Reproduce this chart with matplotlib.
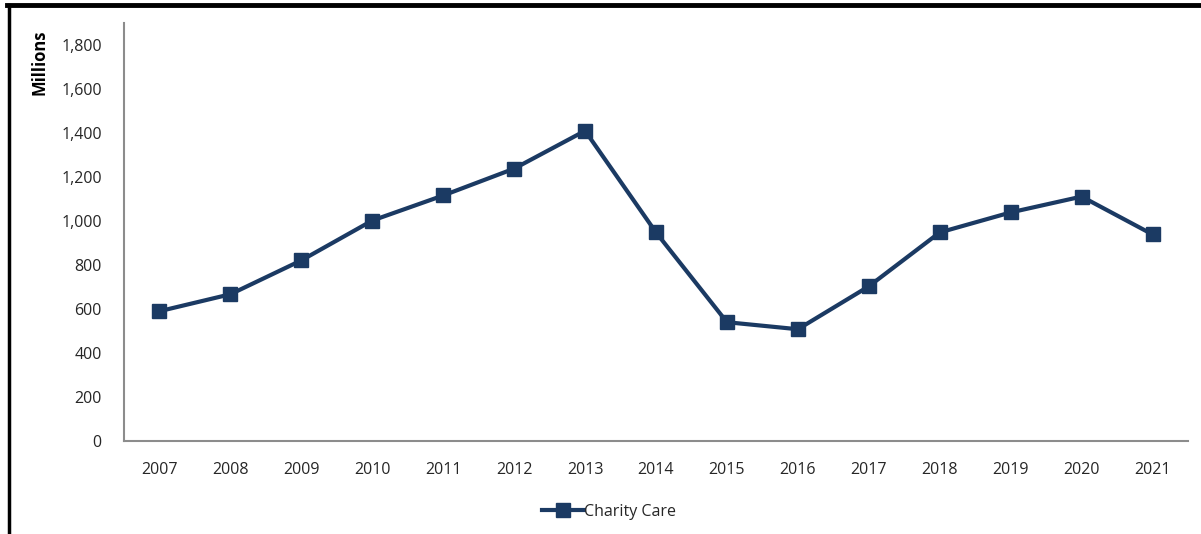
import matplotlib.pyplot as plt
from matplotlib.lines import Line2D

years = ['2007', '2008', '2009', '2010', '2011', '2012', '2013', '2014',
         '2015', '2016', '2017', '2018', '2019', '2020', '2021']
charity_care = [590, 667, 821, 1002, 1116, 1238, 1410, 948,
                540, 508, 703, 948, 1039, 1111, 939]
yticks = [0, 200, 400, 600, 800, 1000, 1200, 1400, 1600, 1800]

navy = '#1b3a63'
grey = '#8c8c8c'
txt = '#262626'

plt.rcParams['font.family'] = ['Open Sans', 'DejaVu Sans']

fig = plt.figure(figsize=(12.01, 5.34), dpi=100)
W, H = 1201, 534
ax = fig.add_axes([124 / W, 1 - 441 / H, (1188 - 124) / W, (441 - 23) / H])

x = list(range(len(years)))
ax.plot(x, charity_care, color=navy, lw=3, marker='s', ms=10,
        label='Charity Care', solid_joinstyle='round')

ax.set_xlim(-0.5, len(years) - 0.5)
ax.set_ylim(0, 1900)
ax.set_xticks(x)
ax.set_xticklabels(years)
ax.set_yticks(yticks)
ax.set_yticklabels([f'{v:,}' for v in yticks])
ax.tick_params(length=0, labelsize=11.5, colors=txt)
ax.tick_params(axis='x', pad=15)
ax.tick_params(axis='y', pad=16)

for s in ['top', 'right']:
    ax.spines[s].set_visible(False)
for s in ['left', 'bottom']:
    ax.spines[s].set_color(grey)
    ax.spines[s].set_linewidth(1.5)

fig.text(40 / W, 1 - 62 / H, 'Millions', rotation=90, fontsize=12,
         fontweight='bold', ha='center', va='center', color='black')

ax.legend(loc='center', bbox_to_anchor=((609 - 124) / 1064, -0.17),
          frameon=False, fontsize=11.5, handlelength=2.6,
          handletextpad=0.0, labelcolor=txt)

# black frame around the picture (top and left)
fig.add_artist(Line2D([7 / W, 1], [1 - 5 / H, 1 - 5 / H], color='black',
                      lw=3.5, transform=fig.transFigure))
fig.add_artist(Line2D([8.5 / W, 8.5 / W], [0, 1 - 5 / H], color='black',
                      lw=2.5, transform=fig.transFigure))

fig.savefig('out.png', dpi=100)
